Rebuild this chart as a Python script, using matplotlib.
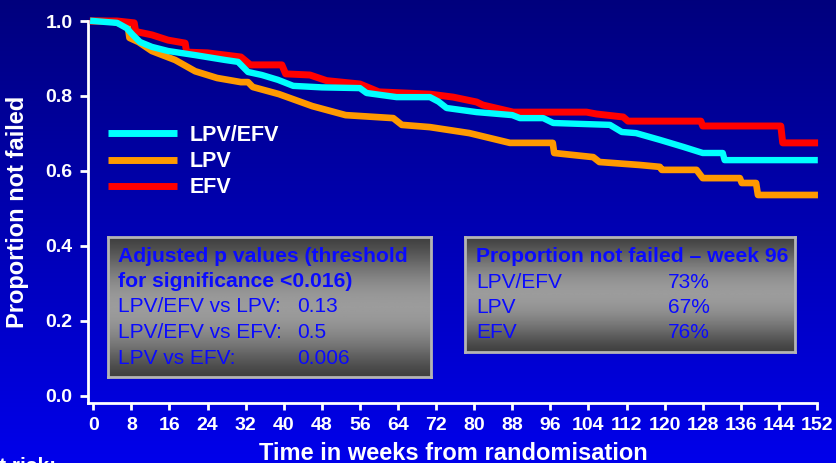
import numpy as np
import matplotlib
matplotlib.use("Agg")
import matplotlib.pyplot as plt
from matplotlib.colors import LinearSegmentedColormap

plt.rcParams['font.family'] = ['Liberation Sans', 'DejaVu Sans']

# Kaplan-Meier estimates (weeks, proportion not failed)
weeks_lpv_efv = [0, 5, 7, 8.3, 9.8, 12.3, 15.7, 21.4, 27.7, 30.4, 32.5, 35.4, 38.8, 42, 48, 56,
                 57.4, 63.7, 70.7, 72.5, 74.2, 80.5, 88, 89.6, 94.5, 96.6, 108.5, 111, 114,
                 119, 124, 128, 132.2, 132.6, 151.5]
surv_lpv_efv = [1.0, 0.995, 0.981, 0.963, 0.944, 0.931, 0.92, 0.909, 0.896, 0.891, 0.864, 0.856,
                0.843, 0.827, 0.823, 0.821, 0.808, 0.797, 0.797, 0.785, 0.768, 0.757, 0.749,
                0.741, 0.741, 0.728, 0.723, 0.704, 0.701, 0.683, 0.664, 0.648, 0.648, 0.629, 0.629]

weeks_lpv = [0, 4, 6.5, 7.3, 7.6, 9.5, 12.3, 17.2, 21.4, 26, 31, 32.5, 33.5, 39, 46, 53, 63,
             64.8, 70.7, 79, 87.5, 96.5, 96.8, 105, 106.3, 114.8, 119, 119.4, 126.7, 128,
             135.8, 136.2, 139.2, 139.6, 151.5]
surv_lpv = [1.0, 0.999, 0.99, 0.982, 0.955, 0.944, 0.92, 0.896, 0.866, 0.848, 0.837, 0.837,
            0.824, 0.805, 0.773, 0.749, 0.741, 0.723, 0.717, 0.701, 0.675, 0.675, 0.648, 0.637,
            0.624, 0.616, 0.611, 0.603, 0.603, 0.581, 0.581, 0.568, 0.568, 0.536, 0.536]

weeks_efv = [0, 5, 8.6, 8.9, 12.3, 15.7, 19.3, 19.6, 24, 31, 33, 39.6, 40.4, 45.5, 49, 56, 60,
             70.7, 75.6, 80.5, 81.8, 88.2, 103.6, 105.7, 111.3, 112.3, 127.6, 128, 144.4,
             144.8, 151.5]
surv_efv = [1.0, 1.0, 0.995, 0.972, 0.963, 0.949, 0.941, 0.917, 0.915, 0.904, 0.883, 0.883,
            0.859, 0.856, 0.841, 0.832, 0.811, 0.805, 0.797, 0.784, 0.776, 0.757, 0.757, 0.752,
            0.744, 0.733, 0.733, 0.72, 0.72, 0.675, 0.675]

xticks = list(range(0, 153, 8))
yticks = [0.0, 0.2, 0.4, 0.6, 0.8, 1.0]

pval_title = ["Adjusted p values (threshold", "for significance <0.016)"]
pval_labels = ["LPV/EFV vs LPV:", "LPV/EFV vs EFV:", "LPV vs EFV:"]
pval_values = ["0.13", "0.5", "0.006"]

prop_title = "Proportion not failed \u2013 week 96"
prop_labels = ["LPV/EFV", "LPV", "EFV"]
prop_values = ["73%", "67%", "76%"]

W, H = 837, 463
fig = plt.figure(figsize=(W / 100, H / 100), dpi=100)


def fx(px):
    return px / W


def fy(py):
    return 1 - py / H


# blue slide background
bg = fig.add_axes([0, 0, 1, 1], zorder=0)
bg_cmap = LinearSegmentedColormap.from_list("bg", [(0, 0, 125 / 255), (0, 0, 235 / 255)])
bg.imshow(np.linspace(0, 1, 256).reshape(-1, 1), aspect='auto', cmap=bg_cmap,
          extent=[0, 1, 0, 1])
bg.axis('off')

ax = fig.add_axes([fx(88), fy(403), fx(817 - 88), (403 - 21) / H], zorder=1)
ax.patch.set_alpha(0)

ax.plot(weeks_lpv, surv_lpv, color='#ff9900', lw=4.8, label='LPV', clip_on=False,
        solid_joinstyle='round', zorder=2)
ax.plot(weeks_efv, surv_efv, color='#ff0000', lw=5.0, label='EFV', clip_on=False,
        solid_joinstyle='round', zorder=3)
ax.plot(weeks_lpv_efv, surv_lpv_efv, color='#00ffff', lw=4.6, label='LPV/EFV', clip_on=False,
        solid_joinstyle='round', zorder=4)

ax.set_xlim(-1.11, 152)
ax.set_ylim(-0.0187, 1.0)
ax.set_xticks(xticks)
ax.set_yticks(yticks)
ax.set_yticklabels(["%.1f" % v for v in yticks])
for s in ['top', 'right']:
    ax.spines[s].set_visible(False)
for s in ['left', 'bottom']:
    ax.spines[s].set_color('white')
    ax.spines[s].set_linewidth(2)
ax.tick_params(colors='white', width=2, labelsize=14)
ax.tick_params(axis='y', length=6, pad=5)
ax.tick_params(axis='x', length=5, pad=5)
for lab in ax.get_xticklabels() + ax.get_yticklabels():
    lab.set_fontweight('bold')

handles, labels = ax.get_legend_handles_labels()
order = [2, 0, 1]
leg = ax.legend([handles[i] for i in order], [labels[i] for i in order],
                loc='upper left', bbox_to_anchor=(fx(108), fy(125)),
                bbox_transform=fig.transFigure, frameon=False, borderpad=0,
                borderaxespad=0, handlelength=3.2, handletextpad=0.6, labelspacing=0.24,
                prop={'size': 15.5, 'weight': 'bold'})
for t in leg.get_texts():
    t.set_color('white')
for h in leg.get_lines():
    h.set_linewidth(5)
    h.set_solid_capstyle('butt')

fig.text(fx(18), fy(212), "Proportion not failed", rotation=90, ha='center', va='center',
         color='white', fontsize=17, fontweight='bold')
fig.text(fx(453), fy(460), "Time in weeks from randomisation", ha='center', va='baseline',
         color='white', fontsize=17, fontweight='bold')
fig.text(fx(56), fy(472), "At risk:", ha='right', va='baseline', color='white',
         fontsize=15, fontweight='bold')

# grey gradient text boxes
t = np.linspace(0, 1, 256)
shade = 0.25 + 0.36 * np.sin(np.pi * t) ** 1.3
grey_cmap = LinearSegmentedColormap.from_list("g", ["black", "white"])


def grey_box(x0, y0, x1, y1):
    bx = fig.add_axes([fx(x0), fy(y1), fx(x1 - x0), (y1 - y0) / H], zorder=2)
    bx.imshow(shade.reshape(-1, 1), aspect='auto', cmap=grey_cmap, vmin=0, vmax=1,
              extent=[0, 1, 0, 1])
    bx.set_xticks([])
    bx.set_yticks([])
    for s in bx.spines.values():
        s.set_color('#b4b4b4')
        s.set_linewidth(2)
    return bx


grey_box(108, 237, 431, 377)
grey_box(465, 237, 795, 352)

txt_blue = '#0a0aff'
fig.text(fx(118), fy(262), pval_title[0], color=txt_blue, fontsize=15.2, fontweight='bold',
         va='baseline', zorder=5)
fig.text(fx(118), fy(287), pval_title[1], color=txt_blue, fontsize=15.2, fontweight='bold',
         va='baseline', zorder=5)
for i, (lab, val) in enumerate(zip(pval_labels, pval_values)):
    yb = 312 + i * 26
    fig.text(fx(118), fy(yb), lab, color=txt_blue, fontsize=15, va='baseline', zorder=5)
    fig.text(fx(297), fy(yb), val, color=txt_blue, fontsize=15, va='baseline', zorder=5)

fig.text(fx(476), fy(262), prop_title, color=txt_blue, fontsize=15.2, fontweight='bold',
         va='baseline', zorder=5)
for i, (lab, val) in enumerate(zip(prop_labels, prop_values)):
    yb = 288 + i * 25
    fig.text(fx(476), fy(yb), lab, color=txt_blue, fontsize=15, va='baseline', zorder=5)
    fig.text(fx(668), fy(yb), val, color=txt_blue, fontsize=15, va='baseline', zorder=5)

fig.savefig("out.png", dpi=100)
